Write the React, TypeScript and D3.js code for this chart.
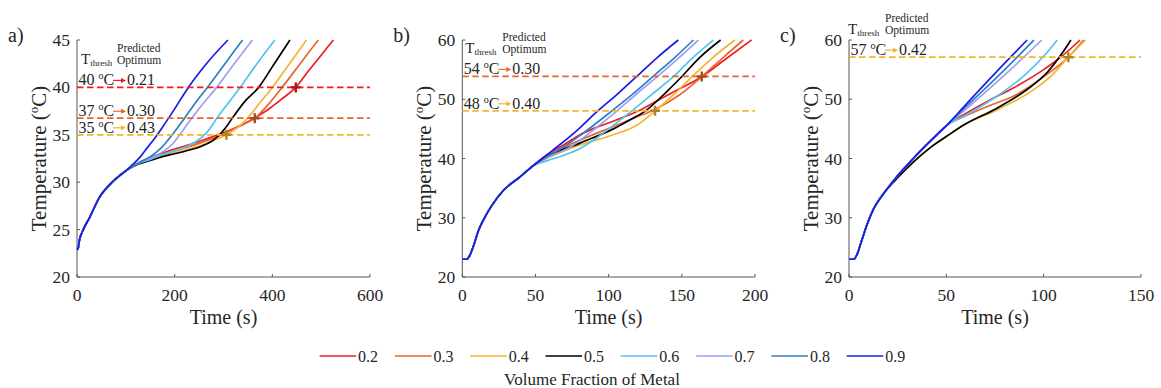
import React from 'react';
import * as d3 from 'd3';

type Pt = [number, number];

const FRACTIONS = ['0.2', '0.3', '0.4', '0.5', '0.6', '0.7', '0.8', '0.9'];
const SERIES_COLORS = ['#ee1d24', '#e9652f', '#f3b431', '#000000', '#4fc4f2', '#9e9ef7', '#2c7fc6', '#1b1be8'];

// ---------- Panel a ----------
const A_START: Pt[] = [[0, 22.9], [2, 23.0], [5, 23.9], [12, 24.9], [26, 26.3], [46, 28.4], [74, 30.1], [100, 31.2]];
const A_02: Pt[] = [...A_START, [125, 32.0], [150, 32.6], [200, 33.5], [250, 34.3], [300, 35.2], [340, 36.1], [368, 36.9], [395, 37.8], [420, 38.8], [448, 40], [475, 41.8], [500, 43.4], [525, 45]];
const A_03: Pt[] = [...A_START, [125, 32.0], [150, 32.5], [200, 33.3], [250, 34.1], [300, 35.1], [340, 36.1], [364, 36.75], [390, 38.1], [420, 40], [457, 42.5], [494, 45]];
const A_04: Pt[] = [...A_START, [125, 31.95], [150, 32.4], [200, 33.1], [250, 33.8], [280, 34.4], [305, 35.0], [330, 35.8], [350, 36.8], [375, 38.4], [400, 40], [435, 42.5], [470, 45]];
const A_05: Pt[] = [...A_START, [125, 31.9], [150, 32.3], [175, 32.7], [200, 33.0], [230, 33.4], [255, 33.8], [275, 34.3], [290, 34.9], [305, 35.8], [320, 36.9], [345, 38.6], [372, 40], [404, 42.5], [436, 45]];
const A_06: Pt[] = [...A_START, [125, 31.95], [150, 32.4], [175, 32.9], [200, 33.3], [230, 33.9], [250, 34.5], [265, 35.2], [290, 37.0], [312, 38.5], [334, 40], [370, 42.6], [405, 45]];
const A_07: Pt[] = [...A_START, [125, 32.0], [150, 32.5], [175, 33.2], [195, 34.0], [210, 35.0], [230, 36.4], [255, 38.1], [286, 40], [322, 42.5], [359, 45]];
const A_08: Pt[] = [...A_START, [125, 32.0], [150, 32.7], [172, 33.6], [195, 35.0], [218, 36.6], [240, 38.2], [267, 40], [303, 42.5], [339, 45]];
const A_09: Pt[] = [...A_START, [115, 31.9], [130, 32.7], [145, 33.7], [160, 34.7], [175, 35.8], [197, 37.5], [228, 40], [265, 42.5], [309, 45]];
const A_SERIES = [A_02, A_03, A_04, A_05, A_06, A_07, A_08, A_09];
const A_XTICKS = [0, 200, 400, 600];
const A_YTICKS = [20, 25, 30, 35, 40, 45];
const A_THRESH = [40, 36.75, 35];
const A_THRESH_TEXT = ['40', '37', '35'];
const A_OPTIMUM = ['0.21', '0.30', '0.43'];
const A_OPT_TIME = [448, 364, 306];
const A_THRESH_COLOR = [0, 1, 2];

// ---------- Panel b ----------
const B_START: Pt[] = [[0, 23], [3, 23.0], [5, 23.6], [8, 25.5], [11, 27.8], [15, 29.9], [20, 32.0], [28, 34.6], [39, 36.8], [48, 38.7]];
const B_02: Pt[] = [...B_START, [57.7, 40.6], [70, 42.4], [80.4, 44.0], [92, 45.3], [103.2, 46.3], [120, 48.0], [135, 50.0], [148.8, 51.8], [163.6, 53.8], [180, 56.8], [197.7, 60]];
const B_03: Pt[] = [...B_START, [57.7, 40.4], [80.4, 43.1], [103.2, 45.4], [118, 46.9], [131, 48.2], [148.8, 50.8], [163.6, 53.8], [178, 57], [192, 60]];
const B_04: Pt[] = [...B_START, [57.7, 40.0], [80.4, 42.3], [103.2, 44.0], [119.2, 45.6], [131.7, 48], [145, 50.9], [157, 53.8], [171, 57], [186.3, 60]];
const B_05: Pt[] = [...B_START, [57.7, 40.3], [80.4, 42.6], [103.2, 45.0], [115, 46.6], [125, 48], [139.7, 51.3], [148.7, 53.5], [162, 57], [176.5, 60]];
const B_06: Pt[] = [...B_START, [57.7, 39.6], [70, 40.6], [80.4, 41.7], [92, 43.5], [103.2, 45.6], [115.7, 48], [130, 50.9], [144.2, 53.8], [157, 56.9], [171.5, 60]];
const B_07: Pt[] = [...B_START, [57.7, 40.1], [73.6, 41.9], [90, 44.9], [105.5, 48], [120, 51.1], [134, 54], [148, 57], [161.3, 60]];
const B_08: Pt[] = [...B_START, [57.7, 40.3], [65, 41.3], [80, 43.8], [102, 48], [117, 51.0], [131, 54], [145, 57], [157.9, 60]];
const B_09: Pt[] = [...B_START, [57.7, 40.6], [67, 42.4], [80, 45.1], [90.7, 47.6], [106.6, 51.0], [119, 53.8], [133, 57], [147.6, 60]];
const B_SERIES = [B_02, B_03, B_04, B_05, B_06, B_07, B_08, B_09];
const B_XTICKS = [0, 50, 100, 150, 200];
const B_YTICKS = [20, 30, 40, 50, 60];
const B_THRESH = [53.85, 48.05];
const B_THRESH_TEXT = ['54', '48'];
const B_OPTIMUM = ['0.30', '0.40'];
const B_OPT_TIME = [163.6, 131.7];
const B_THRESH_COLOR = [1, 2];

// ---------- Panel c ----------
const C_START: Pt[] = [[0, 23], [2.5, 23.0], [4, 23.7], [6, 25.6], [9, 28.6], [12.5, 31.4], [17.6, 34.0]];
const C_UPPER: Pt[] = [[24.5, 36.9], [33, 40.0], [42, 43.0], [50.2, 45.6]];
const C_LOWER: Pt[] = [[24.5, 36.6], [33, 39.4], [41.6, 41.8], [50, 43.7], [58.7, 45.6]];
const C_02: Pt[] = [...C_START, ...C_UPPER, [60, 47.6], [72, 49.8], [84.4, 51.9], [100, 55.0], [108.4, 57.0], [118.7, 60]];
const C_03: Pt[] = [...C_START, ...C_UPPER, [60, 47.2], [72, 48.9], [84.4, 50.5], [100, 53.8], [112.7, 57.1], [120.5, 60]];
const C_04: Pt[] = [...C_START, ...C_LOWER, [76, 48.2], [93, 51.2], [104, 54.0], [112.7, 57.1], [121.5, 60]];
const C_05: Pt[] = [...C_START, ...C_LOWER, [76, 48.5], [93, 52.0], [102, 54.6], [110, 58.0], [114, 60]];
const C_06: Pt[] = [...C_START, ...C_UPPER, [60, 47.3], [75.9, 50.5], [90, 54.0], [101.5, 57.8], [107, 60]];
const C_07: Pt[] = [...C_START, ...C_UPPER, [60, 48.3], [80, 54.1], [99, 60]];
const C_08: Pt[] = [...C_START, ...C_UPPER, [60, 48.7], [80, 55.0], [95, 60]];
const C_09: Pt[] = [...C_START, ...C_UPPER, [60, 49.1], [80, 56.1], [91.5, 60]];
const C_SERIES = [C_02, C_03, C_04, C_05, C_06, C_07, C_08, C_09];
const C_XTICKS = [0, 50, 100, 150];
const C_YTICKS = [20, 30, 40, 50, 60];
const C_THRESH = [57.1];
const C_THRESH_TEXT = ['57'];
const C_OPTIMUM = ['0.42'];
const C_OPT_TIME = [112.7];
const C_THRESH_COLOR = [2];

const LEGEND_TITLE = 'Volume Fraction of Metal';

const FONT = "'Liberation Serif', 'Times New Roman', Times, serif";
const TOP = 40;
const BOTTOM = 277;
const TEXT_COLOR = '#262626';
const AXIS_COLOR = '#555';

const PANELS = [
  {
    label: 'a)', x0: 77, x1: 370, xMax: 600, yMin: 20, yMax: 45,
    xTicks: A_XTICKS, yTicks: A_YTICKS, series: A_SERIES,
    thresh: A_THRESH, threshText: A_THRESH_TEXT, optimum: A_OPTIMUM, optTime: A_OPT_TIME, threshColor: A_THRESH_COLOR,
    headerY: 63.5, tX: 4, predX: 40,
  },
  {
    label: 'b)', x0: 462.3, x1: 755, xMax: 200, yMin: 20, yMax: 60,
    xTicks: B_XTICKS, yTicks: B_YTICKS, series: B_SERIES,
    thresh: B_THRESH, threshText: B_THRESH_TEXT, optimum: B_OPTIMUM, optTime: B_OPT_TIME, threshColor: B_THRESH_COLOR,
    headerY: 53, tX: 3, predX: 40,
  },
  {
    label: 'c)', x0: 849, x1: 1141, xMax: 150, yMin: 20, yMax: 60,
    xTicks: C_XTICKS, yTicks: C_YTICKS, series: C_SERIES,
    thresh: C_THRESH, threshText: C_THRESH_TEXT, optimum: C_OPTIMUM, optTime: C_OPT_TIME, threshColor: C_THRESH_COLOR,
    headerY: 33.5, tX: -1, predX: 36,
  },
];

const txt = { fontFamily: FONT };

function Panel({ cfg }: { cfg: any }) {
  const x = d3.scaleLinear().domain([0, cfg.xMax]).range([cfg.x0, cfg.x1]);
  const y = d3.scaleLinear().domain([cfg.yMin, cfg.yMax]).range([BOTTOM, TOP]);
  const line = d3.line<Pt>().x((d) => x(d[0])).y((d) => y(d[1])).curve(d3.curveMonotoneX);
  const cx = (cfg.x0 + cfg.x1) / 2;
  const cy = (TOP + BOTTOM) / 2;
  const ylx = cfg.x0 - 31;
  return (
    <g>
      <text x={cfg.x0 - 69} y={42} fontSize={20} fill={TEXT_COLOR} style={txt}>{cfg.label}</text>
      <line x1={cfg.x0} y1={TOP} x2={cfg.x0} y2={BOTTOM} stroke={AXIS_COLOR} strokeWidth={1} />
      <line x1={cfg.x0} y1={BOTTOM} x2={cfg.x1} y2={BOTTOM} stroke={AXIS_COLOR} strokeWidth={1} />
      {cfg.yTicks.map((t: number) => (
        <g key={'y' + t}>
          <line x1={cfg.x0} x2={cfg.x0 + 3} y1={y(t)} y2={y(t)} stroke={AXIS_COLOR} />
          <text x={cfg.x0 - 7} y={y(t) + 6} fontSize={17.5} textAnchor="end" fill={TEXT_COLOR} style={txt}>{t}</text>
        </g>
      ))}
      {cfg.xTicks.map((t: number) => (
        <g key={'x' + t}>
          <line x1={x(t)} x2={x(t)} y1={BOTTOM} y2={BOTTOM - 3} stroke={AXIS_COLOR} />
          <text x={x(t)} y={301} fontSize={17.5} textAnchor="middle" fill={TEXT_COLOR} style={txt}>{t}</text>
        </g>
      ))}
      <text x={cx} y={324} fontSize={20} textAnchor="middle" fill={TEXT_COLOR} style={txt}>Time (s)</text>
      <text transform={`translate(${ylx},${cy}) rotate(-90)`} fontSize={21} textAnchor="middle" fill={TEXT_COLOR} style={txt}>
        <tspan>Temperature (</tspan>
        <tspan fontSize={13} dy={-8}>o</tspan>
        <tspan dy={8}>C)</tspan>
      </text>
      {cfg.series.map((s: Pt[], i: number) => (
        <path key={'s' + i} d={line(s) || ''} fill="none" stroke={SERIES_COLORS[i]} strokeWidth={1.7} />
      ))}
      {cfg.thresh.map((th: number, i: number) => {
        const col = SERIES_COLORS[cfg.threshColor[i]];
        const ly = y(th);
        const by = ly - 2;
        const ax = cfg.x0 + 36;
        const ay = by - 5;
        const mark = d3.color(col)!.darker(0.9).formatHex();
        const mx = x(cfg.optTime[i]);
        return (
          <g key={'t' + i}>
            <line x1={cfg.x0} x2={cfg.x1} y1={ly} y2={ly} stroke={col} strokeWidth={1.8} strokeDasharray="6.5 3.5" />
            <text x={cfg.x0 + 1.5} y={by} fontSize={16} fill={TEXT_COLOR} style={txt}>
              <tspan>{cfg.threshText[i]} </tspan>
              <tspan fontSize={10} dy={-6}>o</tspan>
              <tspan dy={6}>C</tspan>
            </text>
            <line x1={ax} x2={ax + 9} y1={ay} y2={ay} stroke={col} strokeWidth={1.2} />
            <path d={`M${ax + 13},${ay} L${ax + 8},${ay - 2.5} L${ax + 8},${ay + 2.5} Z`} fill={col} />
            <text x={cfg.x0 + 50} y={by} fontSize={16} fill={TEXT_COLOR} style={txt}>{cfg.optimum[i]}</text>
            <path d={`M${mx - 5},${ly} H${mx + 5} M${mx},${ly - 5} V${ly + 5}`} stroke={mark} strokeWidth={2.4} />
          </g>
        );
      })}
      <text x={cfg.x0 + cfg.tX} y={cfg.headerY} fontSize={15} fill={TEXT_COLOR} style={txt}>
        <tspan>T</tspan>
        <tspan fontSize={9} dy={2}>thresh</tspan>
      </text>
      <text x={cfg.x0 + cfg.predX} y={cfg.headerY - 12} fontSize={11.5} fill={TEXT_COLOR} style={txt}>Predicted</text>
      <text x={cfg.x0 + cfg.predX} y={cfg.headerY} fontSize={11.5} fill={TEXT_COLOR} style={txt}>Optimum</text>
    </g>
  );
}

export default function App() {
  const lx = d3.scaleLinear().domain([0, FRACTIONS.length - 1]).range([319.6, 846.7]);
  const legendY = 356;
  return (
    <svg width={1161} height={388} style={{ position: 'absolute', left: 0, top: 0, background: '#fff', fontFamily: FONT }}>
      <rect width={1161} height={388} fill="#fff" />
      {PANELS.map((p, i) => <Panel key={i} cfg={p} />)}
      {FRACTIONS.map((f, i) => (
        <g key={'l' + i}>
          <line x1={lx(i)} x2={lx(i) + 36.6} y1={legendY} y2={legendY} stroke={SERIES_COLORS[i]} strokeWidth={1.7} />
          <text x={lx(i) + 38.5} y={legendY + 5.5} fontSize={16} fill={TEXT_COLOR} style={txt}>{f}</text>
        </g>
      ))}
      <text x={592} y={385} fontSize={17} textAnchor="middle" fill={TEXT_COLOR} style={txt}>{LEGEND_TITLE}</text>
    </svg>
  );
}
